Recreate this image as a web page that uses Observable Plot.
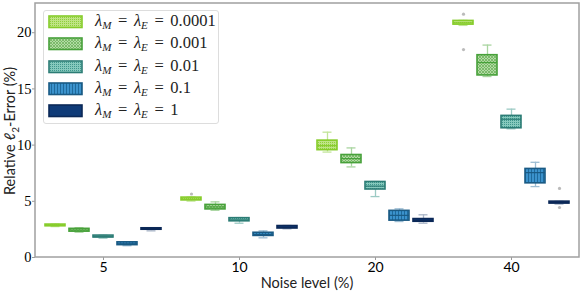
<!DOCTYPE html>
<html><head><meta charset="utf-8">
<script src="https://cdn.jsdelivr.net/npm/d3@7"></script>
<script src="https://cdn.jsdelivr.net/npm/@observablehq/plot@0.6"></script>
<style>
body{margin:0;background:#fff;}
#wrap{position:relative;width:582px;height:292px;overflow:hidden;}
#legend{position:absolute;left:43px;top:10px;width:174px;height:112px;border:1px solid #ddd;border-radius:3px;background:rgba(255,255,255,0.85);}
.row{position:absolute;left:4px;height:13px;}
.row svg{position:absolute;left:0;top:0;}
.row span{position:absolute;left:47px;top:-4px;white-space:nowrap;font-family:"Liberation Serif",serif;font-size:16.5px;color:#222;word-spacing:2.5px;}
.row sub{font-size:11px;vertical-align:-3px;line-height:0;}
.title{position:absolute;font-family:Lato,"Liberation Sans",sans-serif;font-size:14.5px;color:#222;white-space:nowrap;}
</style></head><body><div id="wrap"></div>
<script>
const noiseLevels = ["5", "10", "20", "40"];
const lambdas = ["0.0001", "0.001", "0.01", "0.1", "1"];
// per lambda (rows) x noise level (columns)
const q1  = [[2.78, 5.08, 9.55, 20.72], [2.30, 4.28, 8.40, 16.20], [1.78, 3.22, 6.05, 11.50], [1.10, 1.92, 3.28, 6.60], [2.47, 2.58, 3.18, 4.80]];
const med = [[2.85, 5.20, 9.95, 20.88], [2.45, 4.50, 8.80, 17.35], [1.85, 3.35, 6.35, 12.30], [1.22, 2.05, 3.75, 7.55], [2.55, 2.68, 3.30, 4.88]];
const q3  = [[2.93, 5.33, 10.40, 21.05], [2.55, 4.68, 9.12, 18.00], [1.95, 3.50, 6.72, 12.60], [1.35, 2.20, 4.15, 7.88], [2.60, 2.80, 3.42, 4.97]];
const lo  = [[2.75, 5.02, 9.38, 20.65], [2.25, 4.20, 8.06, 16.10], [1.72, 3.05, 5.42, 11.45], [1.05, 1.75, 3.20, 6.31], [2.37, 2.55, 3.05, 4.75]];
const hi  = [[2.97, 5.38, 11.15, 21.10], [2.65, 4.95, 9.75, 18.90], [1.98, 3.55, 6.76, 13.20], [1.40, 2.37, 4.33, 8.47], [2.62, 2.85, 3.80, 5.00]];
const outNoise  = ["10", "40", "40", "40", "40"];
const outLambda = ["0.0001", "0.0001", "0.0001", "1", "1"];
const outValue  = [5.65, 21.65, 18.50, 6.15, 4.45];

const edgeColors  = ["#86cc2a", "#47a13a", "#2c7c75", "#1a5a84", "#0b2857"];
const lightColors = ["#c2e59a", "#a9d5a0", "#9ccac4", "#9dbdd3", "#aab6c8"];
const fillPatterns = ["url(#p0)", "url(#p1)", "url(#p2)", "url(#p3)", "#0f3b78"];
const legendLabels = lambdas.map(l => `<i>λ</i><sub><i>M</i></sub> = <i>λ</i><sub><i>E</i></sub> = ${l}`);

const rows = [];
lambdas.forEach((lam, i) => noiseLevels.forEach((n, j) => rows.push({
  noise: n, lam, q1: q1[i][j], med: med[i][j], q3: q3[i][j], lo: lo[i][j], hi: hi[i][j],
  edge: edgeColors[i], light: lightColors[i], pat: fillPatterns[i]
})));
const outliers = outValue.map((v, k) => ({noise: outNoise[k], lam: outLambda[k], value: v}));

const plot = Plot.plot({
  width: 582, height: 292,
  marginLeft: 35, marginRight: 3, marginTop: 3, marginBottom: 35,
  style: {background: "transparent"},
  fx: {domain: noiseLevels, padding: 0, label: null},
  x: {domain: lambdas, paddingInner: 0.16, paddingOuter: 0.365, axis: null},
  y: {domain: [0, 22.6]},
  color: {type: "identity"},
  marks: [
    Plot.axisY({ticks: [0, 5, 10, 15, 20], tickSize: 3, tickPadding: 1, fontFamily: "Liberation Serif", fontSize: 14.5, stroke: "#999", label: null}),
    Plot.axisFx({anchor: "bottom", tickSize: 3, tickPadding: 2, fontFamily: "Lato", fontSize: 14, stroke: "#999", label: null}),
    Plot.ruleX(rows, {fx: "noise", x: "lam", y1: "q3", y2: "hi", stroke: "light", strokeWidth: 1.3}),
    Plot.ruleX(rows, {fx: "noise", x: "lam", y1: "lo", y2: "q1", stroke: "light", strokeWidth: 1.3}),
    Plot.tickY(rows, {fx: "noise", x: "lam", y: "hi", stroke: "light", strokeWidth: 1.3, insetLeft: 5.5, insetRight: 5.5}),
    Plot.tickY(rows, {fx: "noise", x: "lam", y: "lo", stroke: "light", strokeWidth: 1.3, insetLeft: 5.5, insetRight: 5.5}),
    Plot.barY(rows, {fx: "noise", x: "lam", y1: "q1", y2: "q3", fill: "pat", stroke: "edge", strokeWidth: 1.6}),
    Plot.tickY(rows, {fx: "noise", x: "lam", y: "med", stroke: "edge", strokeWidth: 1.2}),
    Plot.dot(outliers, {fx: "noise", x: "lam", y: "value", r: 1.6, fill: "#bbbbbb", stroke: "none"})
  ]
});

// pattern definitions for hatched boxes
const ns = "http://www.w3.org/2000/svg";
const defs = document.createElementNS(ns, "defs");
defs.innerHTML = `
<pattern id="p0" patternUnits="userSpaceOnUse" width="2" height="2"><rect width="2" height="2" fill="#bfe485"/><rect width="1" height="1" fill="#8fd03a"/></pattern>
<pattern id="p1" patternUnits="userSpaceOnUse" width="3" height="3"><rect width="3" height="3" fill="#b3dba4"/><path d="M0,0L3,3M3,0L0,3" stroke="#6db35e" stroke-width="0.8"/></pattern>
<pattern id="p2" patternUnits="userSpaceOnUse" width="2" height="2"><rect width="2" height="2" fill="#86c9bd"/><rect width="1" height="1" fill="#3f968c"/></pattern>
<pattern id="p3" patternUnits="userSpaceOnUse" width="3" height="3"><rect width="3" height="3" fill="#3b92cc"/><rect width="1" height="3" fill="#1f6a9c"/></pattern>`;
plot.insertBefore(defs, plot.firstChild);

// outer frame derived from the plot's scales
const fxS = plot.scale("fx"), yS = plot.scale("y");
const x0 = Math.min(...fxS.range), x1 = Math.max(...fxS.range);
const y0 = Math.min(...yS.range), y1 = Math.max(...yS.range);
const frame = document.createElementNS(ns, "rect");
frame.setAttribute("x", x0); frame.setAttribute("y", y0);
frame.setAttribute("width", x1 - x0); frame.setAttribute("height", y1 - y0);
frame.setAttribute("fill", "none"); frame.setAttribute("stroke", "#a0a0a0"); frame.setAttribute("stroke-width", "1.5");
plot.appendChild(frame);

const wrap = document.getElementById("wrap");
wrap.appendChild(plot);

// legend
const legend = document.createElement("div");
legend.id = "legend";
lambdas.forEach((l, i) => {
  const r = document.createElement("div");
  r.className = "row";
  r.style.top = (4 + i * 22.3) + "px";
  r.innerHTML = `<svg width="36" height="14"><rect x="1" y="1" width="33" height="11.5" fill="${fillPatterns[i]}" stroke="${edgeColors[i]}" stroke-width="1.6"/></svg><span>${legendLabels[i]}</span>`;
  legend.appendChild(r);
});
wrap.appendChild(legend);

// axis titles
const xt = document.createElement("div");
xt.className = "title";
xt.innerHTML = "Noise level (%)";
xt.style.left = ((x0 + x1) / 2 - 100) + "px"; xt.style.width = "200px"; xt.style.textAlign = "center";
xt.style.top = (y1 + 17) + "px";
wrap.appendChild(xt);
const yt = document.createElement("div");
yt.className = "title";
yt.innerHTML = "Relative ℓ<sub style='font-size:10px'>2</sub>-Error (%)";
yt.style.width = "200px"; yt.style.textAlign = "center";
yt.style.left = (11 - 100) + "px"; yt.style.top = ((y0 + y1) / 2 - 9) + "px";
yt.style.transform = "rotate(-90deg)";
wrap.appendChild(yt);
</script></body></html>
